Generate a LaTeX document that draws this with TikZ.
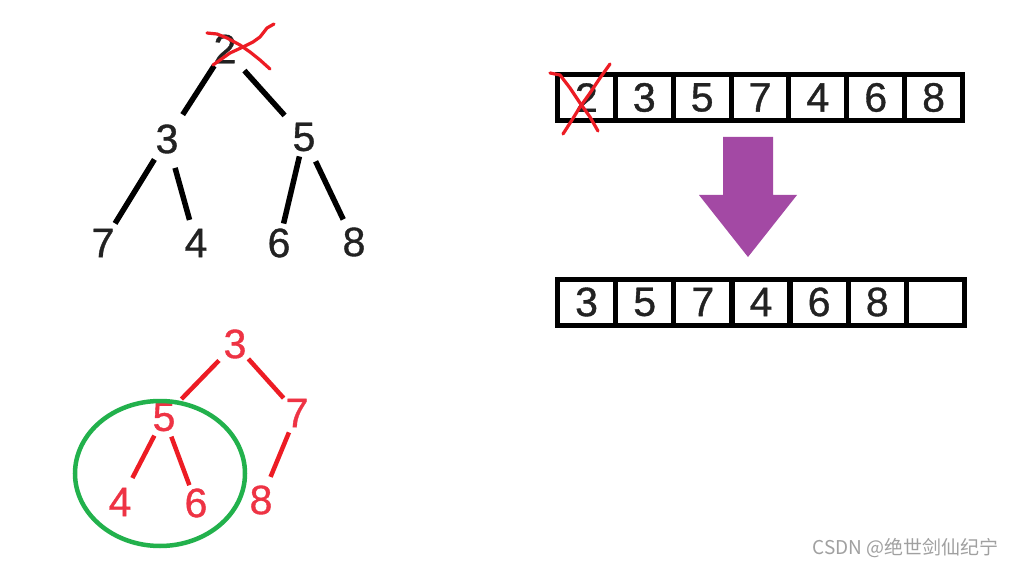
\documentclass[tikz,border=0pt]{standalone}
\usepackage{fontspec}
\setmainfont{Liberation Sans}
\newfontfamily\digitfont[FakeBold=0.9]{Liberation Sans}
\newfontfamily\cjkfont{Noto Sans CJK SC}
\usetikzlibrary{calc}
\definecolor{inkblack}{HTML}{222222}
\definecolor{paintred}{HTML}{ED1C24}
\definecolor{redtext}{HTML}{EE3344}
\definecolor{paintgreen}{HTML}{22B14C}
\definecolor{paintpurple}{HTML}{A349A4}
\definecolor{wmgray}{HTML}{A0A0A0}
\tikzset{
  digit/.style={inner sep=0pt, font=\digitfont\fontsize{41}{41}\selectfont, text=inkblack},
  rdigit/.style={digit, text=redtext},
  blackedge/.style={draw=black, line width=5.5pt},
  rededge/.style={draw=paintred, line width=4.5pt},
  cross/.style={draw=paintred, line width=3.2pt, line join=round, line cap=round},
  cell/.style={draw=black, line width=5pt, minimum width=57.9pt, minimum height=46pt, inner sep=0pt, font=\digitfont\fontsize{41}{41}\selectfont, text=inkblack},
}
\begin{document}
\begin{tikzpicture}[x=1pt, y=-1pt]
\useasboundingbox (0,0) rectangle (1013,567);
\fill[white] (0,0) rectangle (1013,567);

% ---- top tree ----
\node[digit] (t2) at (225,49) {2};
\node[digit] (t3) at (167,139) {3};
\node[digit] (t5) at (304,137) {5};
\node[digit] (t7) at (103,243) {7};
\node[digit] (t4) at (196,243) {4};
\node[digit] (t6) at (279,243) {6};
\node[digit] (t8) at (354,242) {8};
\draw[blackedge] ($(t2.center)!20pt!(t3.center)$) -- ($(t3.center)!29pt!(t2.center)$);
\draw[blackedge] ($(t2.center)!29pt!(t5.center)$) -- ($(t5.center)!29pt!(t2.center)$);
\draw[blackedge] ($(t3.center)!24pt!(t7.center)$) -- ($(t7.center)!23pt!(t3.center)$);
\draw[blackedge] ($(t3.center)!30pt!(t4.center)$) -- ($(t4.center)!24pt!(t3.center)$);
\draw[blackedge] ($(t5.center)!20pt!(t6.center)$) -- ($(t6.center)!20pt!(t5.center)$);
\draw[blackedge] ($(t5.center)!27pt!(t8.center)$) -- ($(t8.center)!25pt!(t5.center)$);
% red cross on 2
\draw[cross] (207,33) -- (217,34) -- (227,38) -- (240,45) -- (250,52) -- (260,60) -- (270,69);
\draw[cross] (274,24) -- (267,28) -- (260,37) -- (253,42) -- (243,47) -- (230,53) -- (213,65);

% ---- top array ----
\foreach \v [count=\i] in {2,3,5,7,4,6,8} {
  \node[cell] (a\i) at ({557.5+28.95+57.86*(\i-1)},97.5) {\v};
}
\draw[cross] (550,73) -- (560,75) -- (570,88) -- (580,103) -- (590,117) -- (598,131);
\draw[cross] (610,64) -- (600,78) -- (590,93) -- (580,107) -- (572,120) -- (563,134);

% ---- purple arrow ----
\fill[paintpurple] (723,137) -- (773,137) -- (773,195) -- (797,195) -- (748,257) -- (699,195) -- (723,195) -- cycle;

% ---- bottom array ----
\foreach \v [count=\i] in {3,5,7,4,6,8,{}} {
  \node[cell] (b\i) at ({557.5+29.07+58.14*(\i-1)},302) {\v};
}

% ---- bottom (red) tree ----
\node[rdigit] (r3) at (235,344) {3};
\node[rdigit] (r5) at (164,417) {5};
\node[rdigit] (r7) at (297,413) {7};
\node[rdigit] (r4) at (120,502) {4};
\node[rdigit] (r6) at (196,503) {6};
\node[rdigit] (r8) at (261,500) {8};
\draw[rededge] ($(r3.center)!23pt!(r5.center)$) -- ($(r5.center)!25pt!(r3.center)$);
\draw[rededge] ($(r3.center)!20pt!(r7.center)$) -- ($(r7.center)!20pt!(r3.center)$);
\draw[rededge] ($(r5.center)!21pt!(r4.center)$) -- ($(r4.center)!27pt!(r5.center)$);
\draw[rededge] ($(r5.center)!21pt!(r6.center)$) -- ($(r6.center)!19pt!(r5.center)$);
\draw[rededge] ($(r7.center)!21pt!(r8.center)$) -- ($(r8.center)!25pt!(r7.center)$);
\draw[draw=paintgreen, line width=4.5pt] (160,473.5) ellipse [x radius=85, y radius=72.5];

% ---- watermark ----
\node[anchor=east, inner sep=0pt, text=wmgray, font=\cjkfont\fontsize{19}{19}\selectfont] (wm) at (999,548) {CSDN @绝世剑仙纪宁};
\end{tikzpicture}
\end{document}
